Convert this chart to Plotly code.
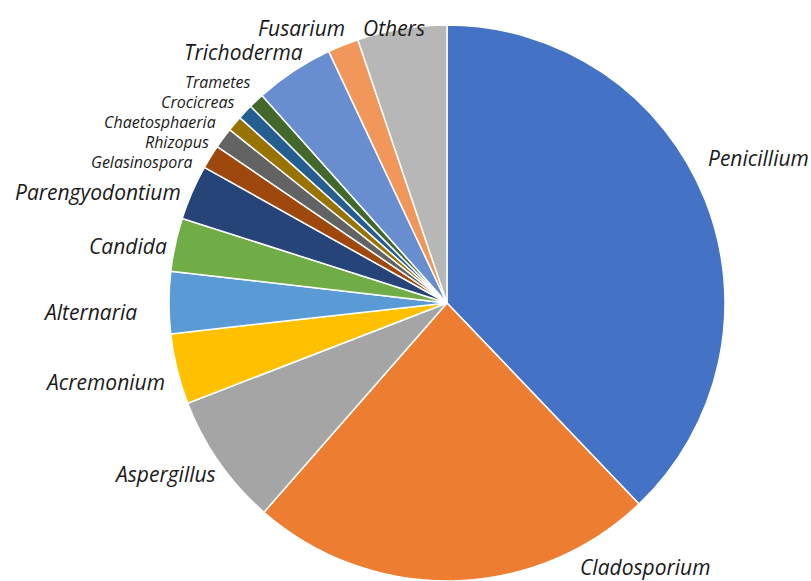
import plotly.graph_objects as go

W, H = 811, 581

genera = ["Penicillium", "Cladosporium", "Aspergillus", "Acremonium", "Alternaria",
          "Candida", "Parengyodontium", "Gelasinospora", "Rhizopus", "Chaetosphaeria",
          "Crocicreas", "Trametes", "Trichoderma", "Fusarium", "Others"]
shares = [37.9, 23.6, 7.7, 4.1, 3.6, 3.1, 3.2, 1.4, 1.2, 0.9, 0.9, 0.9, 4.6, 1.8, 5.2]
colors = ["#4472C4", "#ED7D31", "#A5A5A5", "#FFC000", "#5B9BD5", "#70AD47", "#264478",
          "#9E480E", "#636363", "#997300", "#255E91", "#43682B", "#698ED0", "#F1975A",
          "#B7B7B7"]

# label placement (pixel centres) and font size per genus
label_x = [758, 645, 165, 105, 90, 128, 98, 142, 177, 160, 198, 218, 244, 301, 394]
label_y = [158, 567, 474, 382, 312, 246, 192, 162, 142, 122, 102, 82, 52, 28, 28]
label_size = [21, 21, 21, 21, 21, 21, 21, 16, 16, 16, 16, 16, 21, 21, 21]

cx, cy, r = 447, 303, 278

fig = go.Figure(go.Pie(
    labels=genera,
    values=shares,
    sort=False,
    direction="clockwise",
    rotation=0,
    marker=dict(colors=colors, line=dict(color="white", width=1.5)),
    textinfo="none",
    hoverinfo="label+percent",
    domain=dict(x=[(cx - r) / W, (cx + r) / W], y=[(H - cy - r) / H, (H - cy + r) / H]),
    showlegend=False,
))

for name, x, y, s in zip(genera, label_x, label_y, label_size):
    fig.add_annotation(
        x=x / W, y=1 - y / H, xref="paper", yref="paper",
        text=f"<i>{name}</i>", showarrow=False,
        xanchor="center", yanchor="middle",
        height=18 if s < 20 else None,
        borderpad=0,
        font=dict(family="Open Sans", size=s, color="#1a1a1a"),
    )

fig.update_layout(
    width=W, height=H,
    margin=dict(l=0, r=0, t=0, b=0),
    paper_bgcolor="white",
    plot_bgcolor="white",
)

fig.write_html("out.html")
